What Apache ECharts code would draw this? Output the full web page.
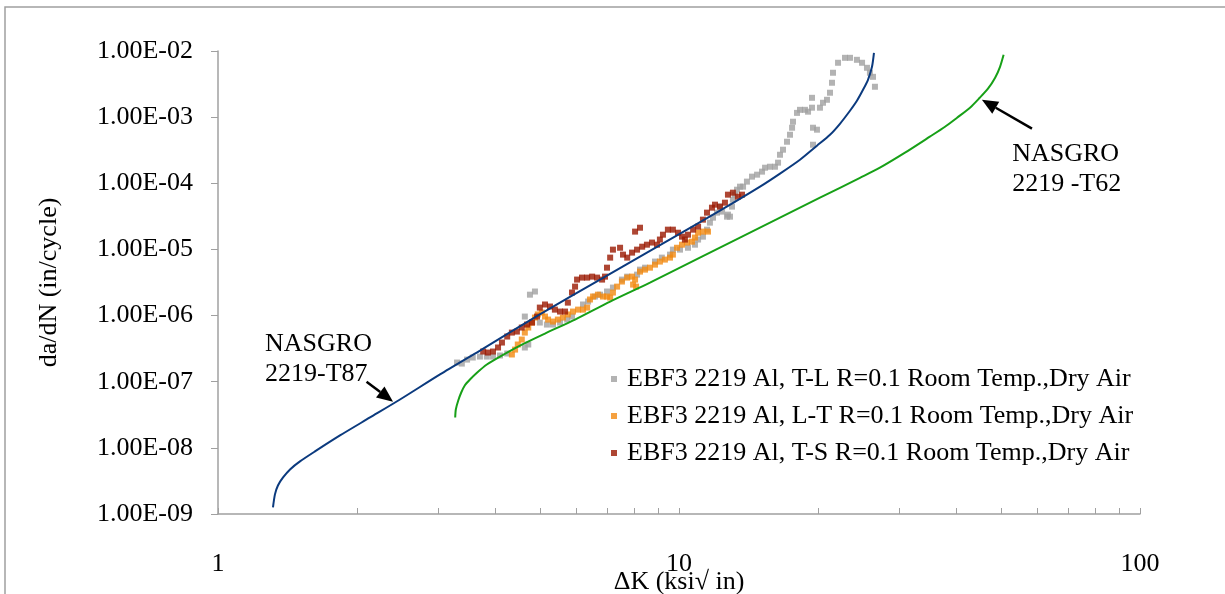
<!DOCTYPE html>
<html><head><meta charset="utf-8">
<script src="https://cdn.jsdelivr.net/npm/echarts@6/dist/echarts.min.js"></script>
<style>html,body{margin:0;padding:0;background:#fff}#c{width:1225px;height:594px}</style>
</head><body><div id="c"></div>
<script>
// ---- data ----
const xTickValues = [1,2,3,4,5,6,7,8,9,10,20,30,40,50,60,70,80,90,100];
const xLabelValues = [1,10,100];
const seriesNames = [
  'EBF3 2219 Al, T-L R=0.1 Room Temp.,Dry Air',
  'EBF3 2219 Al, L-T R=0.1 Room Temp.,Dry Air',
  'EBF3 2219 Al, T-S R=0.1 Room Temp.,Dry Air'
];
const xAxisTitle = 'ΔK (ksi√ in)';
const yAxisTitle = 'da/dN (in/cycle)';

const grayTL = [
[3.30,1.95e-7],[3.38,1.88e-7],[3.47,2.16e-7],[3.57,2.32e-7],[3.70,2.40e-7],[3.83,2.40e-7],[3.95,2.40e-7],[4.09,2.49e-7],[4.24,2.67e-7],[4.63,3.29e-7],[4.71,3.65e-7],[4.63,9.66e-7],[4.75,2.07e-6],[4.87,2.31e-6],[4.99,7.84e-7],[5.17,7.31e-7],[5.33,7.31e-7],[5.52,7.84e-7],[5.72,8.7e-7],[5.86,9.66e-7],[6.19,1.47e-6],[6.35,1.63e-6],[6.57,1.94e-6],[6.74,2.07e-6],[6.98,2.31e-6],[7.19,2.65e-6],[7.52,3.50e-6],[7.72,3.88e-6],[8.11,4.16e-6],[8.23,4.95e-6],[8.44,5.3e-6],[8.87,6.55e-6],[9.18,7.52e-6],[9.56,8.35e-6],[9.70,9.93e-6],[10.05,9.93e-6],[10.46,1.06e-5],[10.83,1.18e-5],[11.0,1.41e-5],[11.27,1.56e-5],[11.50,1.99e-5],[11.67,2.54e-5],[11.85,3.02e-5],[12.09,3.6e-5],[12.27,4.44e-5],[12.40,3.73e-5],[12.71,3.13e-5],[12.77,3.36e-5],[12.90,3.13e-5],[13.03,4.44e-5],[13.09,5.65e-5],[13.22,6.73e-5],[13.36,8.0e-5],[13.56,8.89e-5],[13.77,8.89e-5],[14.04,1.06e-4],[14.40,1.26e-4],[14.77,1.35e-4],[15.14,1.50e-4],[15.37,1.72e-4],[15.75,1.78e-4],[16.15,1.78e-4],[16.40,2.05e-4],[16.56,2.70e-4],[16.81,3.22e-4],[17.15,4.25e-4],[17.41,5.42e-4],[17.59,6.92e-4],[17.67,8.53e-4],[18.03,1.16e-3],[18.30,1.29e-3],[18.76,1.29e-3],[19.05,1.21e-3],[19.43,1.39e-3],[19.43,1.96e-3],[19.53,6.92e-4],[19.92,6.46e-4],[19.53,3.83e-4],[20.22,1.39e-3],[20.53,1.65e-3],[20.94,1.83e-3],[21.26,2.34e-3],[21.47,3.31e-3],[21.58,4.69e-3],[22.13,6.64e-3],[22.91,7.89e-3],[23.49,7.89e-3],[24.32,7.36e-3],[24.95,6.64e-3],[25.57,5.57e-3],[25.95,4.69e-3],[26.35,4.07e-3],[26.61,2.88e-3]
];
const orangeLT = [
[4.34,2.58e-7],[4.41,3.06e-7],[4.47,3.65e-7],[4.56,4.34e-7],[4.63,5.53e-7],[4.71,6.59e-7],[4.80,7.84e-7],[4.87,9.33e-7],[4.94,1.04e-6],[5.04,1.11e-6],[5.12,9.66e-7],[5.20,8.7e-7],[5.33,8.12e-7],[5.46,8.7e-7],[5.60,9.33e-7],[5.74,1.04e-6],[5.89,1.15e-6],[6.04,1.23e-6],[6.19,1.23e-6],[6.32,1.32e-6],[6.41,1.75e-6],[6.51,1.94e-6],[6.67,2.07e-6],[6.84,1.94e-6],[6.98,1.94e-6],[7.09,1.87e-6],[7.19,2.23e-6],[7.34,2.74e-6],[7.52,3.27e-6],[7.72,3.75e-6],[7.91,3.88e-6],[8.03,3.50e-6],[7.95,2.94e-6],[8.07,2.74e-6],[8.23,4.62e-6],[8.44,4.95e-6],[8.65,5.3e-6],[8.87,5.89e-6],[9.09,6.55e-6],[9.32,7.02e-6],[9.56,7.52e-6],[9.70,8.35e-6],[9.90,1.06e-5],[10.15,1.18e-5],[10.41,1.27e-5],[10.67,1.31e-5],[10.83,1.51e-5],[11.0,1.79e-5],[11.27,1.86e-5],[11.56,1.86e-5]
];
const redTS = [
[3.76,2.86e-7],[3.85,2.76e-7],[3.95,2.86e-7],[4.05,3.29e-7],[4.13,3.91e-7],[4.24,4.82e-7],[4.34,5.53e-7],[4.45,5.73e-7],[4.56,6.59e-7],[4.68,7.31e-7],[4.80,7.84e-7],[4.92,9.66e-7],[4.99,1.32e-6],[5.12,1.47e-6],[5.25,1.37e-6],[5.38,1.23e-6],[5.52,1.15e-6],[5.66,1.15e-6],[5.74,1.57e-6],[5.86,2.23e-6],[5.95,2.74e-6],[6.01,3.50e-6],[6.16,3.75e-6],[6.32,3.75e-6],[6.48,3.88e-6],[6.64,3.75e-6],[6.81,3.50e-6],[6.91,3.88e-6],[6.98,5.3e-6],[7.09,7.52e-6],[7.19,9.93e-6],[7.45,1.06e-5],[7.56,8.35e-6],[7.72,7.52e-6],[7.91,8.95e-6],[8.03,1.86e-5],[8.11,9.93e-6],[8.23,2.13e-5],[8.32,1.10e-5],[8.52,1.18e-5],[8.74,1.27e-5],[8.96,1.18e-5],[9.09,1.41e-5],[9.23,1.67e-5],[9.46,1.99e-5],[9.70,1.99e-5],[9.95,1.79e-5],[10.15,1.56e-5],[10.30,1.41e-5],[10.46,1.67e-5],[10.73,1.99e-5],[11.0,2.21e-5],[11.27,2.82e-5],[11.50,3.6e-5],[11.79,4.28e-5],[11.97,4.75e-5],[12.27,4.44e-5],[12.58,5.09e-5],[12.77,6.73e-5],[13.09,7.21e-5],[13.42,6.28e-5],[13.70,6.73e-5]
];
const nasgroT87 = [
[1.316,1.26e-9],[1.329,1.98e-9],[1.349,2.70e-9],[1.384,3.57e-9],[1.433,4.72e-9],[1.506,6.24e-9],[1.623,8.83e-9],[1.839,1.54e-8],[2.137,2.88e-8],[2.482,5.38e-8],[3.031,1.29e-7],[3.70,2.96e-7],[4.99,1.04e-6],[6.74,3.50e-6],[8.52,8.95e-6],[10.41,1.99e-5],[12.27,3.85e-5],[14.99,8.89e-5],[16.56,1.40e-4],[18.30,2.27e-4],[19.92,3.70e-4],[21.26,5.42e-4],[22.34,7.94e-4],[23.49,1.25e-3],[24.32,1.77e-3],[25.07,2.59e-3],[25.70,3.67e-3],[26.22,5.77e-3],[26.48,9.39e-3]
];
const nasgroT62 = [
[3.27,2.88e-8],[3.28,3.80e-8],[3.32,5.20e-8],[3.37,6.87e-8],[3.43,8.77e-8],[3.52,1.08e-7],[3.65,1.38e-7],[3.83,1.82e-7],[4.09,2.40e-7],[4.52,3.52e-7],[5.12,5.35e-7],[5.95,8.71e-7],[7.09,1.63e-6],[8.65,3.15e-6],[11.10,7.52e-6],[13.56,1.51e-5],[16.56,3.02e-5],[20.22,6.05e-5],[24.69,1.21e-4],[27.28,1.72e-4],[30.92,2.90e-4],[35.0,5.06e-4],[37.76,7.16e-4],[40.1,9.80e-4],[42.78,1.39e-3],[44.9,1.96e-3],[46.8,2.69e-3],[48.5,3.94e-3],[49.7,5.77e-3],[50.6,8.77e-3]
];
// annotations: text anchored (top-left) at [ΔK, da/dN]; arrows: [tail, head]
const notes = [
  {text:'NASGRO\n2219-T87', at:[1.265, 6.3e-7]},
  {text:'NASGRO\n2219 -T62', at:[52.8, 4.6e-4]}
];
const arrows = [
  [[2.10, 1.0e-7],[2.397, 5.0e-8]],
  [[58.3, 6.7e-4],[45.4, 1.83e-3]]
];

// ---- chart ----
const FONT = '"Liberation Serif","Times New Roman",serif';
const FS = 26;
const chart = echarts.init(document.getElementById('c'), null, {renderer:'canvas'});
const scat = (name, data, color) => ({
  name, type:'scatter', data, symbol:'rect', symbolSize:6,
  itemStyle:{color}, z:2, silent:true
});
const line = (data, color) => ({
  type:'line', data, showSymbol:false, smooth:0.25, symbol:'none',
  lineStyle:{color, width:2}, z:3, silent:true
});
function yFmt(v){
  const e = Math.round(Math.log10(v));
  return '1.00E' + (e<0?'-':'+') + String(Math.abs(e)).padStart(2,'0');
}
const option = {
  backgroundColor:'#fff',
  animation:false,
  grid:{left:218, right:85, top:51, bottom:80, containLabel:false, outerBoundsMode:'none'},
  xAxis:{
    type:'log', logBase:10, min:1, max:100,
    axisLine:{show:true, lineStyle:{color:'#a0a0a0', width:1.5}},
    axisTick:{show:true, inside:true, length:6, customValues:xTickValues, lineStyle:{color:'#a0a0a0', width:1}},
    axisLabel:{show:true, customValues:xLabelValues, margin:37, color:'#000', fontFamily:FONT, fontSize:FS, formatter:v=>String(Math.round(v))},
    splitLine:{show:false}, minorTick:{show:false},
    name:xAxisTitle, nameLocation:'middle', nameGap:55, nameMoveOverlap:false,
    nameTextStyle:{color:'#000', fontFamily:FONT, fontSize:FS}
  },
  yAxis:{
    type:'log', logBase:10, min:1e-9, max:1e-2,
    axisLine:{show:true, lineStyle:{color:'#a0a0a0', width:1.5}},
    axisTick:{show:true, inside:false, length:7, lineStyle:{color:'#a0a0a0', width:1}},
    axisLabel:{margin:25, color:'#000', fontFamily:FONT, fontSize:FS, formatter:yFmt},
    splitLine:{show:false},
    name:yAxisTitle, nameLocation:'middle', nameGap:156, nameRotate:90, nameMoveOverlap:false,
    nameTextStyle:{color:'#000', fontFamily:FONT, fontSize:FS}
  },
  legend:{
    data:seriesNames, orient:'vertical', left:606, top:361, itemGap:11,
    icon:'rect', itemWidth:6, itemHeight:6,
    textStyle:{color:'#000', fontFamily:FONT, fontSize:FS, padding:[0,0,0,5]},
    selectedMode:false
  },
  series:[
    scat(seriesNames[0], grayTL, '#a0a0a0'),
    scat(seriesNames[1], orangeLT, '#f28a10'),
    scat(seriesNames[2], redTS, '#9a1800'),
    line(nasgroT87, '#0b3a7e'),
    line(nasgroT62, '#17a017')
  ]
};
chart.setOption(option);

function arrowGraphic(tail, head){
  const p0 = chart.convertToPixel({gridIndex:0}, tail);
  const p1 = chart.convertToPixel({gridIndex:0}, head);
  const dx = p1[0]-p0[0], dy = p1[1]-p0[1];
  const L = Math.hypot(dx,dy), ux = dx/L, uy = dy/L;
  const hl = 16, hw = 7;
  const bx = p1[0]-ux*hl, by = p1[1]-uy*hl;
  return [
    {type:'line', shape:{x1:p0[0], y1:p0[1], x2:bx, y2:by}, style:{stroke:'#000', lineWidth:2.5}, z:10},
    {type:'polygon', shape:{points:[[p1[0],p1[1]],[bx-uy*hw, by+ux*hw],[bx+uy*hw, by-ux*hw]]}, style:{fill:'#000'}, z:10}
  ];
}
const graphics = [
  {type:'rect', shape:{x:5, y:7, width:1400, height:800}, style:{fill:'none', stroke:'#a0a0a0', lineWidth:1.5}, z:-1, silent:true}
];
notes.forEach(n=>{
  const p = chart.convertToPixel({gridIndex:0}, n.at);
  graphics.push({type:'text', x:p[0], y:p[1], style:{text:n.text, fill:'#000', font:FS+'px '+FONT, lineHeight:30, textVerticalAlign:'top'}, z:10});
});
arrows.forEach(a=>graphics.push(...arrowGraphic(a[0], a[1])));
chart.setOption({graphic:graphics});
</script></body></html>
